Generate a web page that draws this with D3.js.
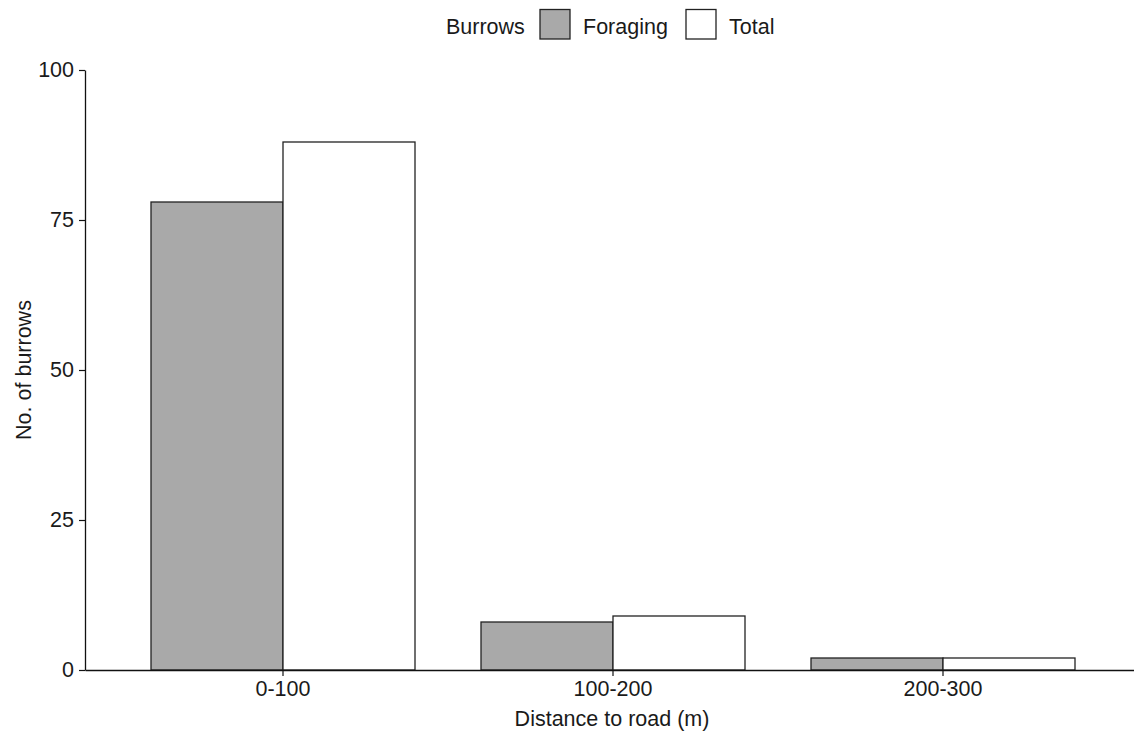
<!DOCTYPE html>
<html>
<head>
<meta charset="utf-8">
<script src="https://cdn.jsdelivr.net/npm/d3@7"></script>
<style>
  html, body { margin: 0; padding: 0; background: #fff; }
  svg { display: block; font-family: "Liberation Sans", Arial, sans-serif; }
</style>
</head>
<body>
<svg id="chart" width="1134" height="731"></svg>
<script>
// Burrow counts by distance band from the road
const distances = ["0-100", "100-200", "200-300"];
const groups = ["Foraging", "Total"];
const foraging = [78, 8, 2];
const total = [88, 9, 2];
const yTicks = [0, 25, 50, 75, 100];
const fills = { Foraging: "#a9a9a9", Total: "#ffffff" };

const rows = distances.map((d, i) => ({ distance: d, Foraging: foraging[i], Total: total[i] }));

const svg = d3.select("#chart");
const margin = { left: 85, top: 70, bottom: 670, right: 1141 };
const fontSize = 21.5;
const textColor = "#1a1a1a";

const x = d3.scaleBand()
  .domain(distances)
  .range([margin.left, margin.right])
  .paddingInner(0.2)
  .paddingOuter(0.2);

const xSub = d3.scaleBand()
  .domain(groups)
  .range([0, x.bandwidth()])
  .padding(0);

const y = d3.scaleLinear()
  .domain([0, 100])
  .range([margin.bottom, margin.top]);

// Bars
const barGroups = svg.append("g")
  .selectAll("g")
  .data(rows)
  .join("g")
  .attr("transform", d => `translate(${x(d.distance)},0)`);

barGroups.selectAll("rect")
  .data(d => groups.map(g => ({ key: g, value: d[g] })))
  .join("rect")
  .attr("x", d => xSub(d.key))
  .attr("y", d => y(d.value))
  .attr("width", xSub.bandwidth())
  .attr("height", d => y(0) - y(d.value))
  .attr("fill", d => fills[d.key])
  .attr("stroke", "#222")
  .attr("stroke-width", 1.3);

// Axes
const xAxis = svg.append("g")
  .attr("transform", `translate(0,${margin.bottom})`)
  .call(d3.axisBottom(x).tickSize(6).tickPadding(5).tickSizeOuter(0));

const yAxis = svg.append("g")
  .attr("transform", `translate(${margin.left},0)`)
  .call(d3.axisLeft(y).tickValues(yTicks).tickSize(6).tickPadding(5).tickSizeOuter(0));

[xAxis, yAxis].forEach(ax => {
  ax.select(".domain").attr("stroke", "#111").attr("stroke-width", 1.3);
  ax.selectAll(".tick line").attr("stroke", "#111").attr("stroke-width", 1.2);
  ax.selectAll(".tick text")
    .attr("fill", textColor)
    .style("font-size", fontSize + "px")
    .style("font-family", "'Liberation Sans', Arial, sans-serif");
});

// Axis titles
svg.append("text")
  .attr("x", (margin.left + margin.right) / 2 - 1)
  .attr("y", 726)
  .attr("text-anchor", "middle")
  .attr("fill", textColor)
  .style("font-size", fontSize + "px")
  .text("Distance to road (m)");

svg.append("text")
  .attr("transform", `translate(31,${(margin.top + margin.bottom) / 2}) rotate(-90)`)
  .attr("text-anchor", "middle")
  .attr("fill", textColor)
  .style("font-size", fontSize + "px")
  .text("No. of burrows");

// Legend
const legend = svg.append("g");
legend.append("text")
  .attr("x", 446)
  .attr("y", 34)
  .attr("fill", textColor)
  .style("font-size", fontSize + "px")
  .text("Burrows");

const keyX = [540, 686];
groups.forEach((g, i) => {
  legend.append("rect")
    .attr("x", keyX[i])
    .attr("y", 9.5)
    .attr("width", 30)
    .attr("height", 29.5)
    .attr("fill", fills[g])
    .attr("stroke", "#222")
    .attr("stroke-width", 1.3);
  legend.append("text")
    .attr("x", keyX[i] + 43)
    .attr("y", 34)
    .attr("fill", textColor)
    .style("font-size", fontSize + "px")
    .text(g);
});
</script>
</body>
</html>
